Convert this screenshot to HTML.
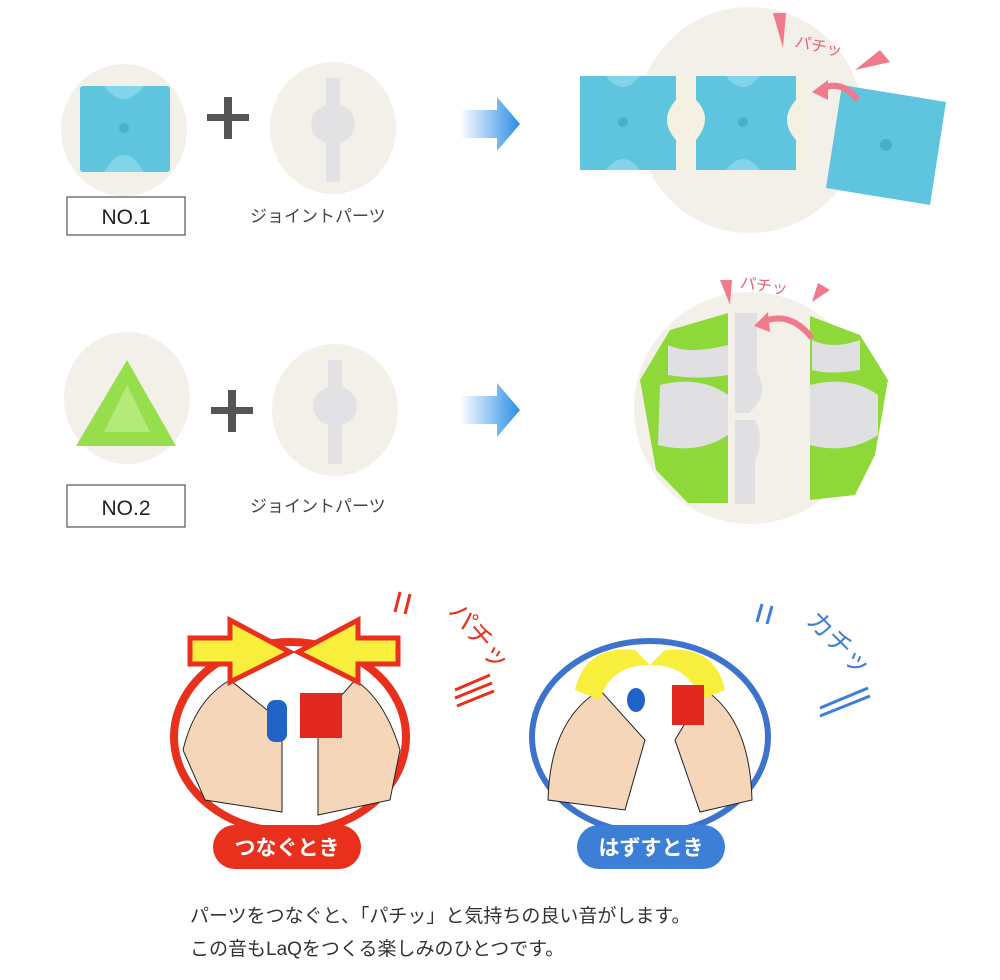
<!DOCTYPE html>
<html><head><meta charset="utf-8"><style>
html,body{margin:0;padding:0;background:#fff;}
svg{display:block}
text{font-family:"Liberation Sans","Noto Sans CJK JP",sans-serif;}
</style></head><body>
<svg width="1000" height="980" viewBox="0 0 1000 980" xmlns="http://www.w3.org/2000/svg">
<defs>
<linearGradient id="ar" x1="0" x2="1" y1="0" y2="0"><stop offset="0" stop-color="#fff"/><stop offset="1" stop-color="#2a8ee6"/></linearGradient>
</defs>
<!-- Row 1 -->
<ellipse cx="124" cy="130" rx="63" ry="66" fill="#f3f0ea"/>
<rect x="80" y="86" width="90" height="86" rx="3" fill="#5fc4de"/>
<path d="M104 172 Q124 138 144 172 Z M104 86 Q124 112 144 86 Z" fill="#82d4e8"/>
<circle cx="124" cy="128" r="5" fill="#49aecb"/>
<rect x="207" y="114" width="42" height="7" fill="#555"/><rect x="224" y="97" width="8" height="42" fill="#555"/>
<ellipse cx="333" cy="128" rx="63" ry="66" fill="#f3f0ea"/>
<rect x="326" y="78" width="14" height="104" fill="#e2e2e4"/>
<ellipse cx="333" cy="124" rx="22" ry="20" fill="#e2e2e4"/>
<rect x="67" y="197" width="118" height="38" fill="#fff" stroke="#555" stroke-width="1.2"/>
<text x="126" y="224" font-size="21" text-anchor="middle" fill="#222">NO.1</text>
<text x="250" y="222" font-size="17" fill="#444">ジョイントパーツ</text>
<polygon points="460,110 497,110 497,97 520,124 497,151 497,138 460,138" fill="url(#ar)"/>
<circle cx="750" cy="120" r="113" fill="#f3f0ea"/>
<rect x="580" y="76" width="230" height="94" fill="#5fc4de"/>
<path d="M676 76 h20 v24 q18 18 0 40 v30 h-20 v-30 q-18 -20 0 -40 z M796 76 h14 v94 h-14 v-30 q-18 -20 0 -40 z" fill="#f4f0e2"/>
<circle cx="623" cy="122" r="5" fill="#49aecb"/><circle cx="743" cy="122" r="5" fill="#49aecb"/>
<path d="M606 170 Q623 148 640 170Z M726 170 Q743 148 760 170Z M606 76 Q623 98 640 76Z M726 76 Q743 98 760 76Z" fill="#82d4e8"/>
<polygon points="842,85 946,102 930,205 826,188" fill="#5fc4de"/>
<circle cx="886" cy="145" r="6" fill="#49aecb"/>
<path d="M820 90 Q840 78 858 100" stroke="#f07a8c" stroke-width="6" fill="none"/>
<polygon points="812,92 828,80 828,100" fill="#f07a8c"/>
<polygon points="773,13 786,13 783,48" fill="#f07a8c"/><polygon points="880,50 890,62 855,70" fill="#f07a8c"/>
<text x="795" y="52" font-size="16" fill="#e8637a" transform="rotate(12 820 45)">パチッ</text>
<!-- Row 2 -->
<ellipse cx="127" cy="398" rx="63" ry="66" fill="#f3f0ea"/>
<polygon points="127,360 176,446 76,446" fill="#96de4c"/>
<polygon points="127,385 150,432 104,432" fill="#b4ea7a"/>
<rect x="211" y="407" width="42" height="7" fill="#555"/><rect x="228" y="390" width="8" height="42" fill="#555"/>
<ellipse cx="335" cy="410" rx="63" ry="66" fill="#f3f0ea"/>
<rect x="328" y="360" width="14" height="104" fill="#e2e2e4"/>
<ellipse cx="335" cy="406" rx="22" ry="20" fill="#e2e2e4"/>
<rect x="67" y="485" width="118" height="42" fill="#fff" stroke="#555" stroke-width="1.2"/>
<text x="126" y="515" font-size="21" text-anchor="middle" fill="#222">NO.2</text>
<text x="250" y="512" font-size="17" fill="#444">ジョイントパーツ</text>
<polygon points="460,396 497,396 497,383 520,410 497,437 497,424 460,424" fill="url(#ar)"/>
<circle cx="750" cy="408" r="116" fill="#f3f0ea"/>
<polygon points="728,313 728,503 688,503 656,470 640,380 670,330" fill="#8fd83a"/>
<polygon points="810,316 810,500 855,495 875,455 888,380 860,335" fill="#8fd83a"/>
<path d="M735 313 h22 v60 q14 20 -8 40 h-14 z M735 420 h20 q10 20 0 40 v44 h-20z M660 385 q40 -10 68 10 v40 q-30 20 -70 10z M810 385 q40 -10 68 10 v40 q-30 20 -68 10z M668 345 q20 10 60 0 v30 q-30 5 -60 0z M812 340 q20 10 48 0 v30 q-30 5 -48 0z" fill="#e0e0e2"/>
<path d="M762 322 Q790 310 812 338" stroke="#f07a8c" stroke-width="6" fill="none"/>
<polygon points="754,326 768,312 770,332" fill="#f07a8c"/>
<polygon points="720,280 732,280 730,305" fill="#f07a8c"/><polygon points="818,283 830,290 812,302" fill="#f07a8c"/>
<text x="740" y="292" font-size="16" fill="#e8637a" transform="rotate(8 770 285)">パチッ</text>
<!-- Bottom -->
<ellipse cx="290" cy="737" rx="116" ry="95" fill="#fff" stroke="#e8301c" stroke-width="8"/>
<ellipse cx="650" cy="737" rx="118" ry="96" fill="#fff" stroke="#3d73cc" stroke-width="6"/>
<path d="M183 750 Q195 700 230 680 L282 722 L282 812 L205 800Z" fill="#f5d6b8" stroke="#222" stroke-width="1"/>
<path d="M400 750 Q385 700 355 680 L318 722 L318 815 L390 800Z" fill="#f5d6b8" stroke="#222" stroke-width="1"/>
<rect x="267" y="700" width="20" height="42" rx="8" fill="#1f63c6"/>
<rect x="300" y="693" width="42" height="45" fill="#e0281e"/>
<path d="M190 638 H230 V620 L290 652 L230 682 V664 H190Z" fill="#f7ef3c" stroke="#e8301c" stroke-width="5"/>
<path d="M398 638 H358 V620 L298 652 L358 682 V664 H398Z" fill="#f7ef3c" stroke="#e8301c" stroke-width="5"/>
<path d="M548 800 Q550 720 600 690 L645 740 L625 810 Z" fill="#f5d6b8" stroke="#222" stroke-width="1"/>
<path d="M752 800 Q750 720 705 690 L675 740 L700 812 Z" fill="#f5d6b8" stroke="#222" stroke-width="1"/>
<path d="M575 690 Q585 645 635 650 L650 665 Q610 665 600 700Z M725 690 Q715 645 665 650 L650 665 Q690 665 700 700Z" fill="#f7ef3c"/>
<ellipse cx="636" cy="700" rx="9" ry="12" fill="#1f63c6"/>
<rect x="672" y="685" width="32" height="40" fill="#e0281e"/>
<rect x="213" y="825" width="148" height="44" rx="22" fill="#e8301c"/>
<text x="287" y="855" font-size="21" font-weight="bold" text-anchor="middle" fill="#fff">つなぐとき</text>
<rect x="577" y="825" width="148" height="44" rx="22" fill="#3d7fd6"/>
<text x="651" y="855" font-size="21" font-weight="bold" text-anchor="middle" fill="#fff">はずすとき</text>
<g stroke="#e8301c" stroke-width="3"><line x1="395" y1="612" x2="400" y2="592"/><line x1="405" y1="614" x2="410" y2="594"/>
<line x1="455" y1="690" x2="490" y2="675"/><line x1="455" y1="698" x2="492" y2="683"/><line x1="457" y1="706" x2="494" y2="691"/></g>
<text x="425" y="620" font-size="26" fill="#e8301c" transform="rotate(50 445 640)">パチッ</text>
<g stroke="#3d7fd6" stroke-width="3"><line x1="757" y1="622" x2="762" y2="604"/><line x1="767" y1="624" x2="772" y2="606"/>
<line x1="820" y1="708" x2="868" y2="688"/><line x1="820" y1="716" x2="870" y2="696"/></g>
<text x="785" y="630" font-size="26" fill="#3d7fd6" transform="rotate(45 805 650)">カチッ</text>
<text x="190" y="922" font-size="19" fill="#333">パーツをつなぐと、「パチッ」と気持ちの良い音がします。</text>
<text x="190" y="955" font-size="19" fill="#333">この音もLaQをつくる楽しみのひとつです。</text>
</svg>
</body></html>
